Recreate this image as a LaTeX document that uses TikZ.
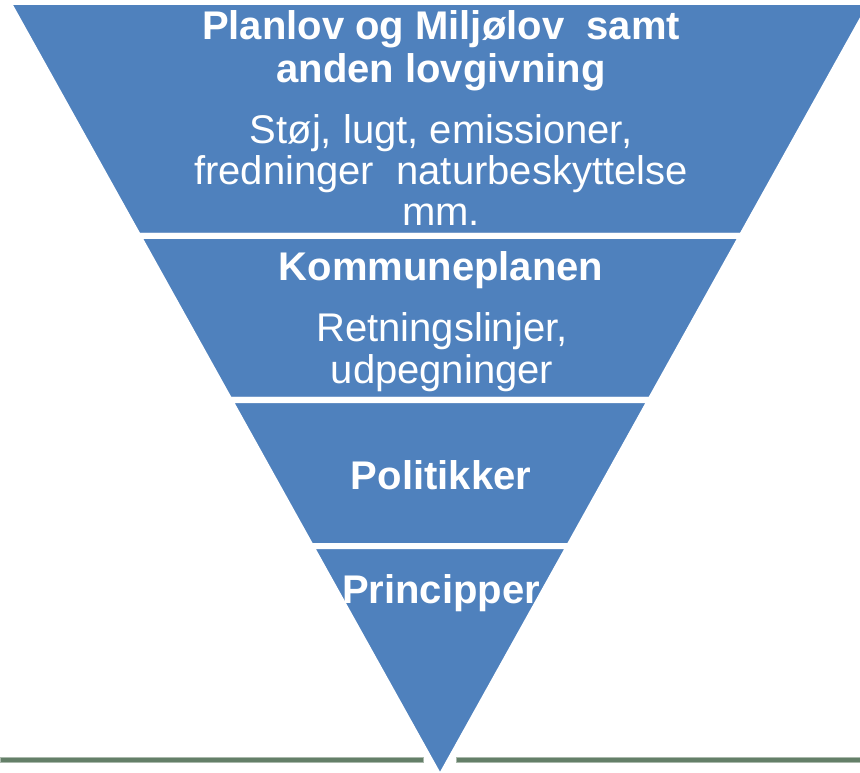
\documentclass[tikz,border=0pt]{standalone}
\usepackage{fontspec}
\setmainfont{Liberation Sans}

\definecolor{bandblue}{HTML}{4F81BD}
\definecolor{groundgreen}{HTML}{647F68}

\tikzset{
  band/.style={fill=bandblue, draw=white, line width=4.5pt, line join=miter},
  head/.style={text=white, inner sep=0pt, align=center, font=\fontsize{30}{32.25}\selectfont\bfseries},
  sub/.style={text=white, inner sep=0pt, align=center, font=\fontsize{30}{31}\selectfont},
}

\begin{document}
\begin{tikzpicture}[x=0.75pt,y=-0.75pt]
    \useasboundingbox (0,0) rectangle (860,773);

    % Draw the ground line behind the funnel
    \fill[groundgreen, draw=groundgreen!55, line width=0.5pt] (0,757) rectangle (423,762);
    \fill[groundgreen, draw=groundgreen!55, line width=0.5pt] (456,757) rectangle (862,762);

    % Draw the four bands of the funnel
    \draw[band] (8,2) -- (872,2) -- (741.7,236) -- (138.3,236) -- cycle;
    \draw[band] (138.3,236) -- (741.7,236) -- (650.4,400) -- (229.6,400) -- cycle;
    \draw[band] (229.6,400) -- (650.4,400) -- (569.2,546) -- (310.8,546) -- cycle;
    \draw[band] (310.8,546) -- (569.2,546) -- (440,778) -- cycle;

    % Texts of the first band
    \node[head] (lov) at (441,51) {Planlov og Milj\o lov\ \ samt\\anden lovgivning};
    \node[sub] (lovtxt) at (441,170) {St\o j, lugt, emissioner,\\fredninger\ \ naturbeskyttelse\\mm.};

    % Texts of the second band
    \node[head] (kplan) at (441,270) {Kommuneplanen};
    \node[sub] (kplantxt) at (442,352) {Retningslinjer,\\udpegninger};

    % Texts of the last two bands
    \node[head] (pol) at (441,475) {Politikker};
    \node[head] (princ) at (441,593) {Principper};
\end{tikzpicture}
\end{document}
